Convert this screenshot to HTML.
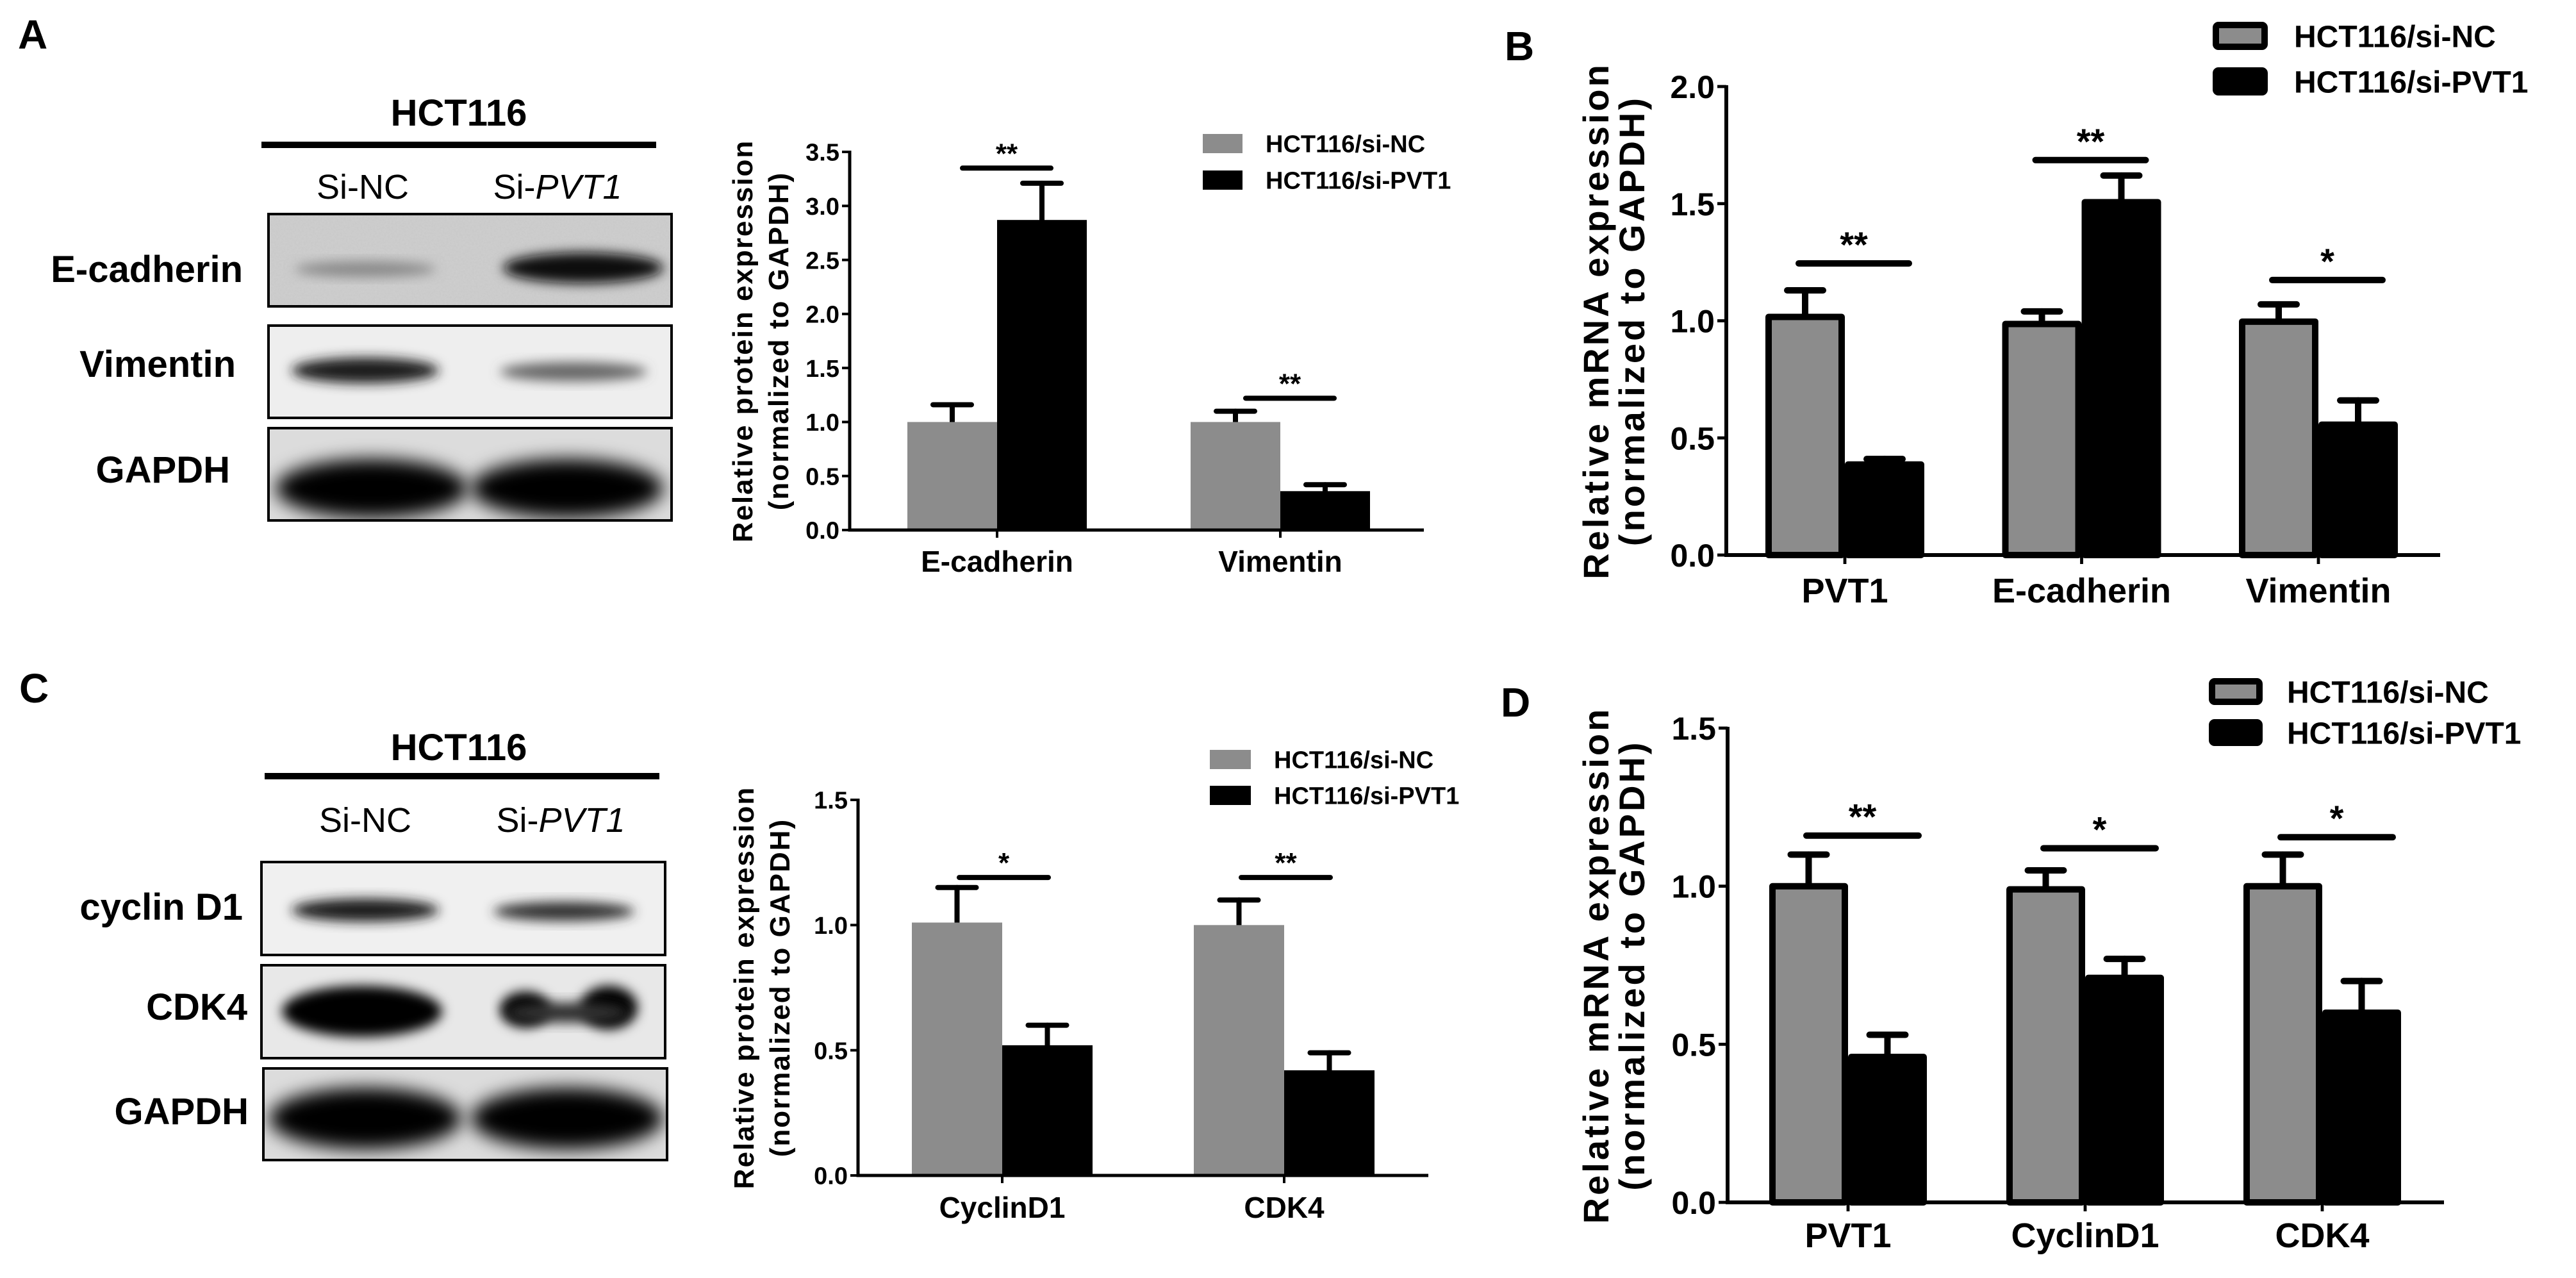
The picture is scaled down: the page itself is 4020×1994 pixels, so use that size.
<!DOCTYPE html>
<html><head><meta charset="utf-8">
<style>
html,body{margin:0;padding:0;background:#fff;}
svg{display:block;}
text{font-family:"Liberation Sans",Arial,sans-serif;}
.nar{font-family:"Liberation Sans Narrow","Liberation Sans",Arial,sans-serif;}
</style></head>
<body>
<svg id="fig" width="4020" height="1994" viewBox="0 0 4020 1994" xmlns="http://www.w3.org/2000/svg">
<defs>
<filter id="blur8" x="-20%" y="-50%" width="140%" height="200%"><feGaussianBlur stdDeviation="9"/></filter>
<filter id="blur14" x="-20%" y="-50%" width="140%" height="200%"><feGaussianBlur stdDeviation="14"/></filter>
<filter id="noise" x="0" y="0" width="100%" height="100%"><feTurbulence type="fractalNoise" baseFrequency="0.35" numOctaves="2" seed="3"/><feColorMatrix type="matrix" values="0 0 0 0 0.5  0 0 0 0 0.5  0 0 0 0 0.5  0 0 0 0.35 0"/></filter>
<clipPath id="cA1"><rect x="419" y="334" width="629" height="144"/></clipPath>
<clipPath id="cA2"><rect x="419" y="508" width="629" height="144"/></clipPath>
<clipPath id="cA3"><rect x="419" y="668" width="629" height="144"/></clipPath>
<clipPath id="cC1"><rect x="408" y="1345" width="630" height="145"/></clipPath>
<clipPath id="cC2"><rect x="408" y="1506" width="630" height="145"/></clipPath>
<clipPath id="cC3"><rect x="411" y="1667" width="630" height="143"/></clipPath>
</defs>

<text x="28" y="76" font-size="64" font-weight="bold">A</text>
<text x="2348" y="94" font-size="64" font-weight="bold">B</text>
<text x="30" y="1096" font-size="64" font-weight="bold">C</text>
<text x="2342" y="1118" font-size="64" font-weight="bold">D</text>

<g>
<text class="nar" x="716" y="196" font-size="58" font-weight="bold" text-anchor="middle">HCT116</text>
<rect x="408" y="221" width="616" height="10" fill="#000"/>
<text class="nar" x="566" y="310" font-size="54" text-anchor="middle">Si-NC</text>
<text class="nar" x="870" y="310" font-size="54" text-anchor="middle">Si-<tspan font-style="italic">PVT1</tspan></text>
<text class="nar" x="379" y="440" font-size="58" font-weight="bold" text-anchor="end">E-cadherin</text>
<text class="nar" x="368" y="588" font-size="58" font-weight="bold" text-anchor="end">Vimentin</text>
<text class="nar" x="359" y="753" font-size="58" font-weight="bold" text-anchor="end">GAPDH</text>
<g>
<g clip-path="url(#cA1)">
<rect x="419" y="334" width="629" height="144" fill="#cfcfcf"/>
<rect x="419" y="334" width="629" height="144" filter="url(#noise)"/>
<ellipse cx="570" cy="420" rx="110" ry="12" fill="#888" filter="url(#blur8)"/>
<ellipse cx="910" cy="418" rx="125" ry="24" fill="#111" filter="url(#blur8)"/>
</g>
<rect x="419" y="334" width="629" height="144" fill="none" stroke="#000" stroke-width="4"/>
</g>
<g>
<g clip-path="url(#cA2)">
<rect x="419" y="508" width="629" height="144" fill="#eeeeee"/>
<ellipse cx="570" cy="578" rx="115" ry="20" fill="#1a1a1a" filter="url(#blur8)"/>
<ellipse cx="895" cy="580" rx="115" ry="15" fill="#666" filter="url(#blur8)"/>
</g>
<rect x="419" y="508" width="629" height="144" fill="none" stroke="#000" stroke-width="4"/>
</g>
<g>
<g clip-path="url(#cA3)">
<rect x="419" y="668" width="629" height="144" fill="#dcdcdc"/>
<ellipse cx="580" cy="762" rx="150" ry="46" fill="#000" filter="url(#blur14)"/>
<ellipse cx="885" cy="762" rx="150" ry="46" fill="#000" filter="url(#blur14)"/>
</g>
<rect x="419" y="668" width="629" height="144" fill="none" stroke="#000" stroke-width="4"/>
</g>
</g>

<g>
<text class="nar" x="716" y="1186" font-size="58" font-weight="bold" text-anchor="middle">HCT116</text>
<rect x="413" y="1206" width="616" height="10" fill="#000"/>
<text class="nar" x="570" y="1298" font-size="54" text-anchor="middle">Si-NC</text>
<text class="nar" x="875" y="1298" font-size="54" text-anchor="middle">Si-<tspan font-style="italic">PVT1</tspan></text>
<text class="nar" x="379" y="1435" font-size="58" font-weight="bold" text-anchor="end">cyclin D1</text>
<text class="nar" x="386" y="1591" font-size="58" font-weight="bold" text-anchor="end">CDK4</text>
<text class="nar" x="388" y="1754" font-size="58" font-weight="bold" text-anchor="end">GAPDH</text>
<g>
<g clip-path="url(#cC1)">
<rect x="408" y="1345" width="630" height="145" fill="#f0f0f0"/>
<ellipse cx="570" cy="1420" rx="115" ry="18" fill="#1a1a1a" filter="url(#blur8)"/>
<ellipse cx="880" cy="1422" rx="110" ry="15" fill="#333" filter="url(#blur8)"/>
</g>
<rect x="408" y="1345" width="630" height="145" fill="none" stroke="#000" stroke-width="4"/>
</g>
<g>
<g clip-path="url(#cC2)">
<rect x="408" y="1506" width="630" height="145" fill="#e8e8e8"/>
<ellipse cx="565" cy="1578" rx="125" ry="40" fill="#000" filter="url(#blur8)"/>
<ellipse cx="820" cy="1575" rx="40" ry="28" fill="#000" filter="url(#blur8)"/>
<ellipse cx="950" cy="1572" rx="45" ry="34" fill="#000" filter="url(#blur8)"/>
<ellipse cx="885" cy="1580" rx="95" ry="16" fill="#333" filter="url(#blur8)"/>
</g>
<rect x="408" y="1506" width="630" height="145" fill="none" stroke="#000" stroke-width="4"/>
</g>
<g>
<g clip-path="url(#cC3)">
<rect x="411" y="1667" width="630" height="143" fill="#dcdcdc"/>
<ellipse cx="570" cy="1745" rx="150" ry="48" fill="#000" filter="url(#blur14)"/>
<ellipse cx="885" cy="1745" rx="150" ry="48" fill="#000" filter="url(#blur14)"/>
</g>
<rect x="411" y="1667" width="630" height="143" fill="none" stroke="#000" stroke-width="4"/>
</g>
</g>

<g id="chartA"></g>
<g id="chartB"></g>
<g id="chartC"></g>
<g id="chartD"></g>
</svg>

<script>
// ---- Chart A data ----
const catsA = ["E-cadherin", "Vimentin"];
const ncA = [1.0, 1.0];
const ncErrA = [0.16, 0.10];
const pvA = [2.87, 0.36];
const pvErrA = [0.34, 0.06];
const sigA = [3.35, 1.22];
const sigLabA = ["**", "**"];
const ticksA = ["0.0","0.5","1.0","1.5","2.0","2.5","3.0","3.5"];

// ---- Chart B data ----
const catsB = ["PVT1", "E-cadherin", "Vimentin"];
const ncB = [1.03, 1.0, 1.01];
const ncErrB = [0.10, 0.04, 0.06];
const pvB = [0.40, 1.52, 0.57];
const pvErrB = [0.01, 0.10, 0.09];
const sigB = [1.245, 1.686, 1.174];
const sigLabB = ["**", "**", "*"];
const ticksB = ["0.0","0.5","1.0","1.5","2.0"];

// ---- Chart C data ----
const catsC = ["CyclinD1", "CDK4"];
const ncC = [1.01, 1.0];
const ncErrC = [0.14, 0.10];
const pvC = [0.52, 0.42];
const pvErrC = [0.08, 0.07];
const sigC = [1.19, 1.19];
const sigLabC = ["*", "**"];
const ticksC = ["0.0","0.5","1.0","1.5"];

// ---- Chart D data ----
const catsD = ["PVT1", "CyclinD1", "CDK4"];
const ncD = [1.01, 1.0, 1.01];
const ncErrD = [0.09, 0.05, 0.09];
const pvD = [0.47, 0.72, 0.61];
const pvErrD = [0.06, 0.05, 0.09];
const sigD = [1.16, 1.12, 1.155];
const sigLabD = ["**", "*", "*"];
const ticksD = ["0.0","0.5","1.0","1.5"];

const NS = "http://www.w3.org/2000/svg";
function mk(parent, tag, attrs, txt) {
  const e = document.createElementNS(NS, tag);
  for (const k in attrs) e.setAttribute(k, attrs[k]);
  if (txt !== undefined) e.textContent = txt;
  parent.appendChild(e);
  return e;
}

function drawChart(id, L, cats, nc, ncErr, pv, pvErr, sig, sigLab, ticks) {
  const g = document.getElementById(id);
  const yMax = parseFloat(ticks[ticks.length - 1]);
  const y = v => L.y0 - (v / yMax) * (L.y0 - L.yTop);
  const cx = i => L.c0 + i * L.step;
  const ol = L.outline;
  cats.forEach((c, i) => {
    const series = [[nc[i], ncErr[i], L.gray, -1, 'nc'], [pv[i], pvErr[i], '#000', 0, 'pvt1']];
    series.forEach(s => {
      const x = cx(i) + s[3] * L.bw;
      const top = y(s[0]);
      const errTop = y(s[0] + s[1]);
      const mid = x + L.bw / 2;
      const err = mk(g, 'line', {x1: mid, y1: top, x2: mid, y2: errTop, stroke: '#000', 'stroke-width': L.ew, 'stroke-linecap': 'round'});
      
      
      const cap = mk(g, 'line', {x1: mid - L.cap, y1: errTop, x2: mid + L.cap, y2: errTop, stroke: '#000', 'stroke-width': L.ew, 'stroke-linecap': 'round'});
      
      
      const attrs = {x: x + ol / 2, y: top + ol / 2, width: L.bw - ol, height: L.y0 - top - ol / 2, fill: s[2]};
      if (ol > 0) { attrs.stroke = '#000'; attrs['stroke-width'] = ol; attrs['stroke-linejoin'] = 'round'; }
      const r = mk(g, 'rect', attrs);
      
      
    });
    const sy = y(sig[i]);
    const sl = mk(g, 'line', {x1: cx(i) + L.s1, y1: sy, x2: cx(i) + L.s2, y2: sy, stroke: '#000', 'stroke-width': L.sw, 'stroke-linecap': 'round'});
    
    
    const st = mk(g, 'text', {x: cx(i) + (L.s1 + L.s2) / 2, y: sy - L.sw, 'font-size': L.starSize, 'font-weight': 'bold', 'text-anchor': 'middle'}, sigLab[i]);
    
    
    const ct = mk(g, 'line', {x1: cx(i), y1: L.y0, x2: cx(i), y2: L.y0 + L.tick, stroke: '#000', 'stroke-width': L.aw * 0.8});
    
    
    const xl = mk(g, 'text', {x: cx(i), y: L.xLabY, 'font-size': L.xfs, 'font-weight': 'bold', 'text-anchor': 'middle', class: 'nar'}, c);
    
    
  });
  const ya = mk(g, 'line', {x1: L.x0, y1: L.y0 + L.aw / 2, x2: L.x0, y2: L.yTop - 2, stroke: '#000', 'stroke-width': L.aw});
  
  
  const xa = mk(g, 'line', {x1: L.x0 - L.aw / 2, y1: L.y0, x2: L.xEnd, y2: L.y0, stroke: '#000', 'stroke-width': L.aw});
  
  
  ticks.forEach(t => {
    const ty = y(parseFloat(t));
    const tk = mk(g, 'line', {x1: L.x0 - L.tick, y1: ty, x2: L.x0, y2: ty, stroke: '#000', 'stroke-width': L.aw * 0.8});
    
    
    const tl = mk(g, 'text', {x: L.x0 - L.tick - 4, y: ty + L.yfs * 0.36, 'font-size': L.yfs, 'font-weight': 'bold', 'text-anchor': 'end', class: 'nar'}, t);
    
    
  });
  const mid = (L.y0 + L.yTop) / 2 + L.titleShift;
  const t1 = mk(g, 'text', {x: L.t1x, y: mid, 'font-size': L.tfs, 'font-weight': 'bold', 'text-anchor': 'middle', 'letter-spacing': L.tls, transform: 'rotate(-90 ' + L.t1x + ' ' + mid + ')'}, L.title1);
  
  
  const t2 = mk(g, 'text', {x: L.t2x, y: mid, 'font-size': L.tfs, 'font-weight': 'bold', 'text-anchor': 'middle', 'letter-spacing': L.tls, transform: 'rotate(-90 ' + L.t2x + ' ' + mid + ')'}, '(normalized to GAPDH)');
  
  
  const lg = mk(g, 'g', {});
  
  
  [['HCT116/si-NC', L.gray, L.lg1y, 'nc'], ['HCT116/si-PVT1', '#000', L.lg2y, 'pvt1']].forEach(e => {
    const a = {x: L.lgx + ol / 2, y: e[2] - L.lgh / 2 + ol / 2, width: L.lgw - ol, height: L.lgh - ol, fill: e[1]};
    if (ol > 0) { a.stroke = '#000'; a['stroke-width'] = ol; a.rx = 4; }
    const sw = mk(lg, 'rect', a);
    
    
    const lt = mk(lg, 'text', {x: L.lgtx, y: e[2] + L.lfs * 0.36, 'font-size': L.lfs, 'font-weight': 'bold', class: 'nar'}, e[0]);
    
    
  });
}

const gray = '#8c8c8c';
drawChart('chartA', {x0:1326, xEnd:2222, y0:827, yTop:237, c0:1556, step:442, bw:140, outline:0, gray:gray,
  ew:8, cap:30, sw:8, s1:-54, s2:84, starSize:44, tick:12, aw:5, xLabY:892, xfs:46, yfs:38,
  t1x:1174, t2x:1230, tfs:44, tls:2, titleShift:0, title1:'Relative protein expression',
  lgx:1877, lgw:62, lgh:30, lg1y:224, lg2y:281, lgtx:1975, lfs:38}, catsA, ncA, ncErrA, pvA, pvErrA, sigA, sigLabA, ticksA);
drawChart('chartB', {x0:2694, xEnd:3808, y0:866, yTop:135, c0:2879, step:369.5, bw:124, outline:10, gray:gray,
  ew:10, cap:28, sw:10, s1:-72, s2:100, starSize:56, tick:14, aw:6, xLabY:940, xfs:54, yfs:50,
  t1x:2510, t2x:2566, tfs:56, tls:4, titleShift:0, title1:'Relative mRNA expression',
  lgx:3453, lgw:86, lgh:44, lg1y:56, lg2y:127, lgtx:3580, lfs:48}, catsB, ncB, ncErrB, pvB, pvErrB, sigB, sigLabB, ticksB);
drawChart('chartC', {x0:1339, xEnd:2229, y0:1834, yTop:1248, c0:1564, step:440, bw:141, outline:0, gray:gray,
  ew:8, cap:30, sw:8, s1:-67, s2:72, starSize:44, tick:12, aw:5, xLabY:1900, xfs:46, yfs:38,
  t1x:1176, t2x:1232, tfs:44, tls:2, titleShift:0, title1:'Relative protein expression',
  lgx:1888, lgw:64, lgh:30, lg1y:1185, lg2y:1241, lgtx:1988, lfs:38}, catsC, ncC, ncErrC, pvC, pvErrC, sigC, sigLabC, ticksC);
drawChart('chartD', {x0:2696, xEnd:3814, y0:1876, yTop:1136, c0:2884, step:370, bw:123, outline:10, gray:gray,
  ew:10, cap:28, sw:10, s1:-65, s2:110, starSize:56, tick:14, aw:6, xLabY:1946, xfs:54, yfs:50,
  t1x:2510, t2x:2566, tfs:56, tls:4, titleShift:0, title1:'Relative mRNA expression',
  lgx:3447, lgw:84, lgh:42, lg1y:1079, lg2y:1143, lgtx:3569, lfs:48}, catsD, ncD, ncErrD, pvD, pvErrD, sigD, sigLabD, ticksD);
</script>
</body></html>
